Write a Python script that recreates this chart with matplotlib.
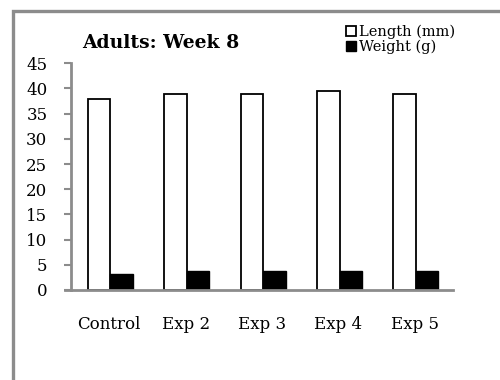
import matplotlib.pyplot as plt
import numpy as np
from matplotlib.patches import Rectangle

# data
groups = ['Control', 'Exp 2', 'Exp 3', 'Exp 4', 'Exp 5']
length_mm = [37.9, 39.0, 39.0, 39.5, 39.0]
weight_g = [3.2, 3.8, 3.8, 3.8, 3.8]

plt.rcParams['font.family'] = ['DejaVu Serif']

fig = plt.figure(figsize=(5, 3.8), dpi=100)
fig.patch.set_facecolor('white')

# grey chart-area frame (top and left visible, clipped at right/bottom)
fig.patches.append(Rectangle((12.5 / 500, -0.05), 1.2, (380 - 11) / 380 + 0.05,
                             transform=fig.transFigure, fill=False,
                             edgecolor='#8c8c8c', linewidth=2.4))

ax = fig.add_axes([71 / 500, 1 - 290 / 380, (453 - 71) / 500, (290 - 63.3) / 380])

x = np.arange(len(groups))
w = 0.295
ax.bar(x - w / 2 + 0.015, length_mm, w, color='white', edgecolor='black',
       linewidth=1.3, label='Length (mm)')
ax.bar(x + w / 2 + 0.015, weight_g, w, color='black', edgecolor='black',
       linewidth=1.0, label='Weight (g)')

ax.set_xlim(-0.5, len(groups) - 0.5)
ax.set_ylim(0, 45)
ax.set_yticks(range(0, 50, 5))
ax.set_xticks(x)
ax.set_xticklabels(groups)

for s in ['top', 'right']:
    ax.spines[s].set_visible(False)
ax.spines['left'].set_color('#8c8c8c')
ax.spines['bottom'].set_color('#8c8c8c')
ax.spines['left'].set_linewidth(2)
ax.spines['bottom'].set_linewidth(2)
ax.spines['bottom'].set_bounds(-0.58, len(groups) - 0.5)

ax.tick_params(axis='y', length=5, width=1.5, color='#8c8c8c', pad=12,
               labelsize=12)
ax.tick_params(axis='x', length=0, pad=19, labelsize=12)

fig.text(82 / 500, 1 - 43 / 380, 'Adults: Week 8', fontsize=13.5,
         fontweight='bold', va='center', ha='left')

leg = fig.legend(loc='upper left', bbox_to_anchor=(346 / 500, 1 - 25 / 380),
                 frameon=False, fontsize=10.5, handlelength=0.7,
                 handleheight=0.7, handletextpad=0.2, labelspacing=0.02,
                 borderaxespad=0, borderpad=0)

fig.savefig('out.png', dpi=100)
